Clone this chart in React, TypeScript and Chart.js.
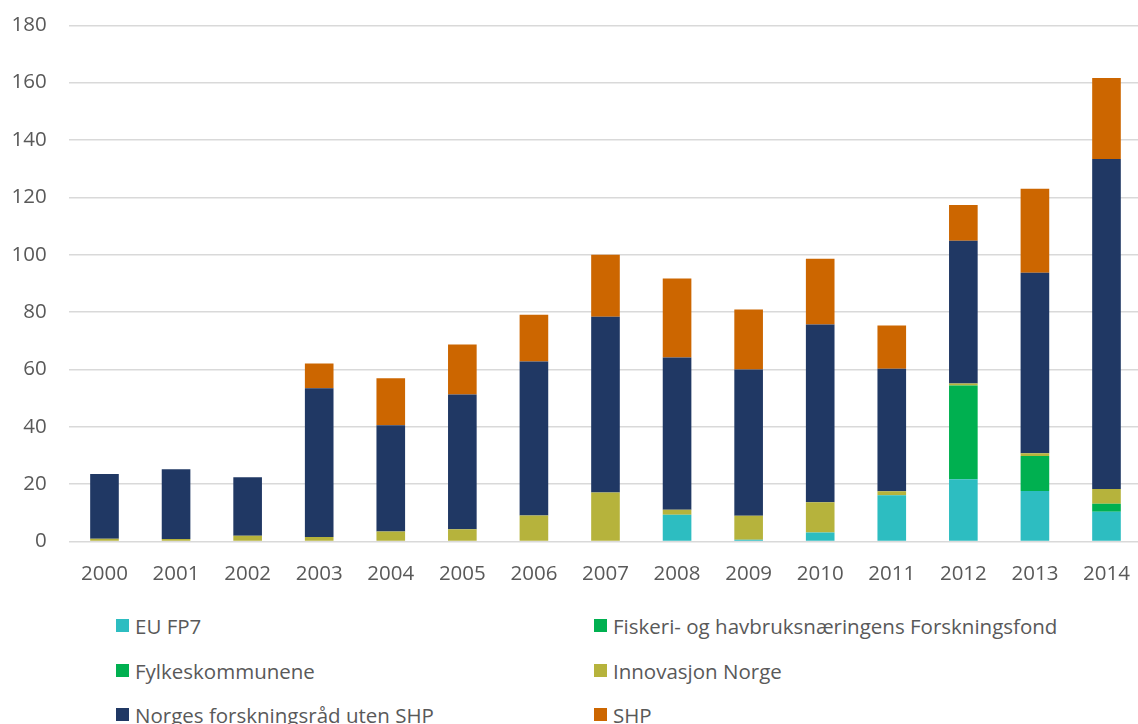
import React, { useEffect, useRef } from "react";
import { Chart, registerables } from "chart.js";

Chart.register(...registerables);

const years = ["2000", "2001", "2002", "2003", "2004", "2005", "2006", "2007", "2008", "2009", "2010", "2011", "2012", "2013", "2014"];
const euFp7 = [0, 0, 0, 0, 0, 0, 0, 0, 9.3, 0.6, 3.1, 16.1, 21.7, 17.6, 10.4];
const fiskeri = [0, 0, 0, 0, 0, 0, 0, 0, 0, 0, 0, 0, 32.7, 12.2, 2.8];
const fylkes = [0, 0, 0, 0, 0, 0, 0, 0, 0, 0, 0, 0, 0, 0, 0];
const innovasjon = [1.0, 0.9, 2.0, 1.6, 3.5, 4.3, 9.1, 17.1, 1.8, 8.4, 10.6, 1.4, 0.7, 1.0, 5.1];
const norges = [22.5, 24.3, 20.4, 51.8, 37.0, 47.0, 53.7, 61.3, 53.1, 51.0, 62.0, 42.7, 49.8, 62.9, 115.1];
const shp = [0, 0, 0, 8.7, 16.4, 17.4, 16.3, 21.6, 27.5, 20.9, 22.9, 15.1, 12.4, 29.3, 28.2];
const yTicks = [0, 20, 40, 60, 80, 100, 120, 140, 160, 180];

const seriesNames = ["EU FP7", "Fiskeri- og havbruksnæringens Forskningsfond", "Fylkeskommunene", "Innovasjon Norge", "Norges forskningsråd uten SHP", "SHP"];
const seriesColors = ["#2DBDC1", "#00B050", "#00B050", "#B6B33C", "#203864", "#CC6600"];
const seriesData = [euFp7, fiskeri, fylkes, innovasjon, norges, shp];

const FONT = "'Open Sans', sans-serif";
const TEXT = "#595959";

export default function App() {
  const ref = useRef<HTMLCanvasElement | null>(null);
  useEffect(() => {
    document.body.style.overflow = "hidden";
    if (!ref.current) return;
    const chart = new Chart(ref.current, {
      type: "bar",
      data: {
        labels: years,
        datasets: seriesNames.map((n, i) => ({
          label: n,
          data: seriesData[i],
          backgroundColor: seriesColors[i],
          borderWidth: 0,
          barPercentage: 0.4,
          categoryPercentage: 1,
        })),
      },
      options: {
        responsive: false,
        animation: false,
        layout: { padding: { top: 15, right: 2, left: 0, bottom: 0 } },
        plugins: { legend: { display: false }, tooltip: { enabled: false } },
        scales: {
          x: {
            stacked: true,
            grid: { display: false, drawTicks: false },
            border: { display: false },
            ticks: { color: TEXT, font: { family: FONT, size: 20.5 }, padding: 20, maxRotation: 0 },
            afterFit: (s: any) => { s.height = 58.5; },
          },
          y: {
            stacked: true,
            min: 0,
            max: 180,
            afterBuildTicks: (s: any) => { s.ticks = yTicks.map((v) => ({ value: v })); },
            grid: { color: "#D9D9D9", lineWidth: 1.5, drawTicks: false },
            border: { display: false },
            ticks: { color: TEXT, font: { family: FONT, size: 20.5 }, padding: 22 },
            afterFit: (s: any) => { s.width = 68.7; },
          },
        },
      },
    });
    return () => chart.destroy();
  }, []);

  const rows = [626, 671, 715];
  const cols = [{ sq: 116, tx: 135 }, { sq: 594, tx: 613 }];
  return (
    <div style={{ position: "absolute", left: 0, top: 0, width: 1150, height: 724, overflow: "hidden" }}>
      <canvas ref={ref} width={1150} height={609} style={{ position: "absolute", left: 0, top: -9 }} />
      {seriesNames.map((n, i) => {
        const r = rows[Math.floor(i / 2)];
        const c = cols[i % 2];
        return (
          <React.Fragment key={n}>
            <div style={{ position: "absolute", left: c.sq, top: r - 7, width: 13, height: 13, background: seriesColors[i] }} />
            <div style={{ position: "absolute", left: c.tx, top: r - 14, height: 28, lineHeight: "28px", fontFamily: FONT, fontSize: 20.5, color: TEXT, whiteSpace: "nowrap" }}>{n}</div>
          </React.Fragment>
        );
      })}
    </div>
  );
}
